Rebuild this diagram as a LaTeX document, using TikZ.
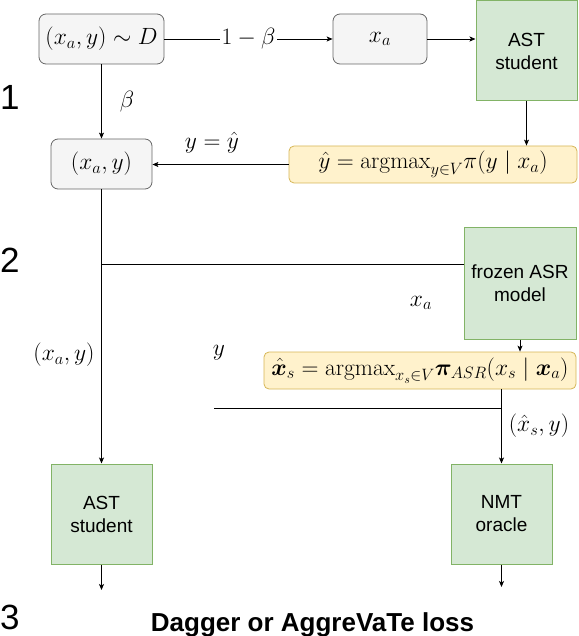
\RequirePackage{fix-cm}
\documentclass[tikz,border=0pt]{standalone}
\usepackage{amsmath,bm}
\usepackage{fontspec}
\newfontfamily\helv{Liberation Sans}
\usetikzlibrary{arrows.meta}
\definecolor{greyfill}{HTML}{F5F5F5}
\definecolor{greydraw}{HTML}{666666}
\definecolor{greenfill}{HTML}{D5E8D4}
\definecolor{greendraw}{HTML}{82B366}
\definecolor{yelfill}{HTML}{FFF2CC}
\definecolor{yeldraw}{HTML}{D6B656}
\begin{document}
\begin{tikzpicture}[x=1pt,y=-1pt,
  mathfont/.style={font=\fontsize{23.5}{28}\selectfont},
  greybox/.style={draw=greydraw, fill=greyfill, rounded corners=7pt, inner sep=0pt, line width=0.8pt, mathfont},
  greenbox/.style={draw=greendraw, fill=greenfill, inner sep=0pt, line width=1pt, align=center, font=\helv\fontsize{19}{23}\selectfont},
  yelbox/.style={draw=yeldraw, fill=yelfill, rounded corners=5pt, inner sep=0pt, line width=0.8pt, mathfont},
  conn/.style={line width=0.8pt},
  arr/.style={conn, -{Stealth[length=6pt,width=5pt,inset=1.5pt]}},
  lab/.style={mathfont, inner sep=0pt},
  bignum/.style={font=\helv\fontsize{35}{40}\selectfont, anchor=base west, inner sep=0pt},
]
\useasboundingbox (0,0) rectangle (578,636);

\node[greybox, minimum width=125pt, minimum height=50pt] (D) at (101.5,39) {$(x_a,y)\sim D$};
\node[greybox, minimum width=94pt, minimum height=50pt] (xa) at (380,39) {$x_a$};
\node[greenbox, minimum width=101pt, minimum height=100pt] (ast1) at (526.5,51) {AST\\student};
\node[yelbox, minimum width=288pt, minimum height=37pt] (yhat) at (433,164.5) {$\hat y=\mathrm{argmax}_{y\in V}\pi(y\mid x_a)$};
\node[greybox, minimum width=101pt, minimum height=50pt] (xay) at (101.5,164) {$(x_a,y)$};
\node[greenbox, minimum width=112pt, minimum height=112pt] (asr) at (520,283) {frozen ASR\\model};
\node[yelbox, minimum width=312pt, minimum height=37pt] (xhat) at (420,370.5) {$\bm{\hat{x}}_s=\mathrm{argmax}_{x_s\in V}\bm{\pi}_{ASR}(x_s\mid \bm{x}_a)$};
\node[greenbox, minimum width=101pt, minimum height=100pt] (ast2) at (101.5,514) {AST\\student};
\node[greenbox, minimum width=101pt, minimum height=100pt] (nmt) at (501.5,514) {NMT\\oracle};

\draw[arr] (D.east) -- node[lab, fill=white, inner xsep=1.5pt] (l1b) {$1-\beta$} (xa.west);
\draw[arr] (xa.east) -- (xa.east -| ast1.west);
\draw[arr] (ast1.south) -- (ast1.south |- yhat.north);
\draw[arr] (yhat.west) -- (yhat.west -| xay.east);
\draw[arr] (D.south) -- node[lab, anchor=west, xshift=18pt] (lb) {$\beta$} (xay.north);
\node[lab] (lyy) at (212,143) {$y=\hat y$};

\draw[arr] (xay.south) -- (ast2.north);
\coordinate (asrin) at ([yshift=19pt]asr.west);
\draw[conn] (asrin -| xay.south) -- (asrin);
\draw[arr] (asr.south) -- (asr.south |- xhat.north);
\coordinate (ystart) at (214,408);
\draw[conn] (ystart) -- (ystart -| nmt.north);
\draw[arr] (xhat.south -| nmt.north) -- (nmt.north);
\coordinate (out1) at (101.5,590);
\coordinate (out2) at (501.5,587);
\draw[arr] (ast2.south) -- (out1);
\draw[arr] (nmt.south) -- (out2);

\node[lab] (lxay) at (64,355) {$(x_a,y)$};
\node[lab] (ly) at (219,353) {$y$};
\node[lab] (lxa) at (421,303) {$x_a$};
\node[lab] (lxs) at (539,426) {$(\hat x_s,y)$};

\node[font=\helv\bfseries\fontsize{26}{30}\selectfont, anchor=base, inner sep=0pt] (loss) at (312.5,631) {Dagger or AggreVaTe loss};
\node[bignum] (n1) at (0,110) {1};
\node[bignum] (n2) at (0,272) {2};
\node[bignum] (n3) at (0,629) {3};
\end{tikzpicture}
\end{document}
